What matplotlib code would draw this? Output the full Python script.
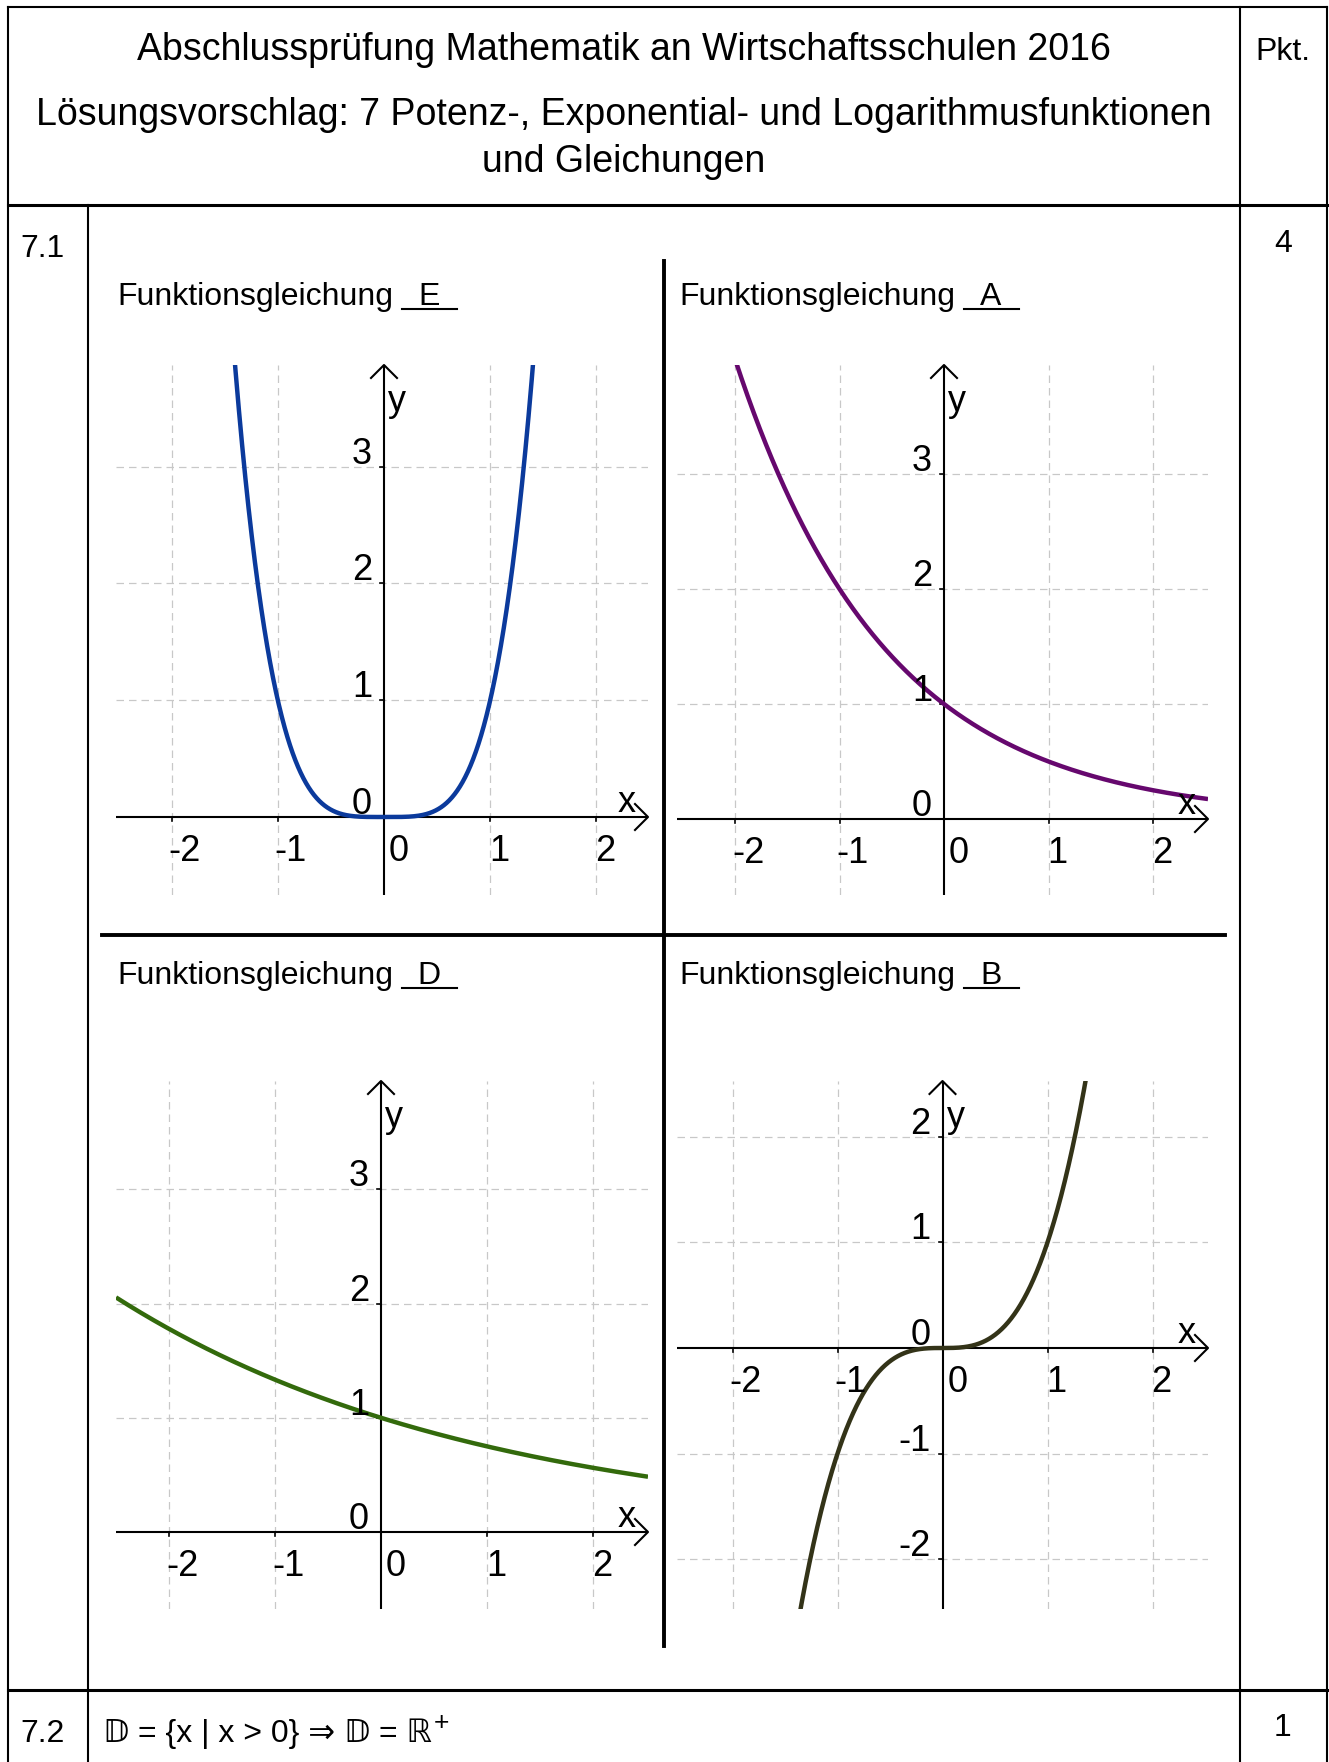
import numpy as np
import matplotlib.pyplot as plt
from matplotlib.transforms import offset_copy

plt.rcParams['font.family'] = ['Liberation Sans', 'DejaVu Sans']

W, H = 1329, 1762

# graphs of task 7.1 and the letter of the matching equation
letters = ['E', 'A', 'D', 'B']
curve_type = ['power', 'exp', 'exp', 'power']
curve_param = [4, 0.5, 0.75, 3]
x_ticks = [-2, -1, 0, 1, 2]
y_ticks = [[0, 1, 2, 3], [0, 1, 2, 3], [0, 1, 2, 3], [-2, -1, 0, 1, 2]]

title_lines = ['Abschlussprüfung Mathematik an Wirtschaftsschulen 2016',
               'Lösungsvorschlag: 7 Potenz-, Exponential- und Logarithmusfunktionen',
               'und Gleichungen']
task_numbers = ['7.1', '7.2']
task_points = ['4', '1']
answer_72 = '𝔻 = {x | x > 0} ⇒ 𝔻 = ℝ'

curve_colors = ['#0b3a9c', '#66086e', '#336a0c', '#333318']
grid_color = '#c8c8c8'
tick_fs = 26

# pixel layout of each coordinate system: origin, unit lengths, frame
panels = [
    dict(ox=384, oy=817, ux=106.2, uy=116.8, left=116, right=648, top=365, bottom=895),
    dict(ox=944, oy=819, ux=104.5, uy=115.0, left=677, right=1208, top=365, bottom=895),
    dict(ox=381, oy=1532, ux=105.9, uy=114.2, left=116, right=648, top=1081, bottom=1609),
    dict(ox=942.5, oy=1348, ux=105.0, uy=105.6, left=677, right=1208, top=1081, bottom=1609),
]
label_pos = [(117, 305), (679, 305), (117, 984), (679, 984)]

fig = plt.figure(figsize=(W / 100, H / 100), dpi=100)
bg = fig.add_axes([0, 0, 1, 1])
bg.set_xlim(0, W)
bg.set_ylim(H, 0)
bg.axis('off')


def hline(y, x0, x1, lw=1.5):
    bg.plot([x0, x1], [y, y], color='black', lw=lw, solid_capstyle='projecting')


def vline(x, y0, y1, lw=1.5):
    bg.plot([x, x], [y0, y1], color='black', lw=lw, solid_capstyle='projecting')


# table frame
hline(7, 8, 1327)
vline(8, 7, H)
vline(1327, 7, H)
vline(1240, 7, H)
hline(205, 8, 1327, lw=2.2)
vline(88, 205, H)
hline(1690, 8, 1327, lw=2.2)

# cross splitting the four graphs
vline(664, 261, 1646, lw=2.8)
hline(935, 102, 1225, lw=2.8)

# header
for s, yb in zip(title_lines, [60, 125, 172]):
    bg.text(624, yb, s, fontsize=27, ha='center', va='baseline')
bg.text(1283, 60, 'Pkt.', fontsize=23, ha='center', va='baseline')

bg.text(20, 257, task_numbers[0], fontsize=23, va='baseline')
bg.text(1283, 252, task_points[0], fontsize=23, ha='center', va='baseline')
bg.text(20, 1742, task_numbers[1], fontsize=23, va='baseline')
bg.text(1283, 1736, task_points[1], fontsize=23, ha='center', va='baseline')
ans = bg.text(103, 1742, answer_72, fontsize=23, va='baseline')
bg.annotate('+', xy=(1, 1), xycoords=ans, xytext=(1, -12), textcoords='offset points',
            fontsize=19, ha='left', va='bottom')

# "Funktionsgleichung _X_" captions
for letter, (lx, ly) in zip(letters, label_pos):
    bg.text(lx, ly, 'Funktionsgleichung', fontsize=23, va='baseline')
    bg.plot([lx + 285, lx + 340], [ly + 4, ly + 4], color='black', lw=1.5)
    bg.text(lx + 312, ly, letter, fontsize=23, ha='center', va='baseline')

for i, p in enumerate(panels):
    ax = fig.add_axes([p['left'] / W, 1 - p['bottom'] / H,
                       (p['right'] - p['left']) / W, (p['bottom'] - p['top']) / H])
    x0 = (p['left'] - p['ox']) / p['ux']
    x1 = (p['right'] - p['ox']) / p['ux']
    y0 = (p['oy'] - p['bottom']) / p['uy']
    y1 = (p['oy'] - p['top']) / p['uy']
    ax.set_xlim(x0, x1)
    ax.set_ylim(y0, y1)
    ax.axis('off')
    ax.patch.set_alpha(0)

    # dashed grid
    for xt in x_ticks:
        if xt != 0:
            ax.axvline(xt, color=grid_color, lw=0.9, dashes=(6, 4))
    for yt in y_ticks[i]:
        if yt != 0:
            ax.axhline(yt, color=grid_color, lw=0.9, dashes=(6, 4))

    # axes with open arrow heads
    ax.plot([x0, x1], [0, 0], color='black', lw=1.5)
    ax.plot([0, 0], [y0, y1], color='black', lw=1.5)
    hx = 13 / p['ux']
    hy = 13 / p['uy']
    ax.plot([x1 - hx, x1, x1 - hx], [hy, 0, -hy], color='black', lw=1.5, clip_on=False)
    ax.plot([-hx, 0, hx], [y1 - hy, y1, y1 - hy], color='black', lw=1.5, clip_on=False)

    # tick marks and labels
    for xt in x_ticks:
        ax.plot([xt, xt], [0, -4 / p['uy']], color='black', lw=1.2)
        dx = 5 if xt == 0 else (-3 if xt < 0 else -1)
        ax.text(xt, 0, str(xt), fontsize=tick_fs, ha='left', va='baseline',
                transform=offset_copy(ax.transData, fig, x=dx, y=-44, units='dots'))
    for yt in y_ticks[i]:
        ax.plot([-4 / p['ux'], 0], [yt, yt], color='black', lw=1.2)
        ax.text(0, yt, str(yt), fontsize=tick_fs, ha='right', va='baseline',
                transform=offset_copy(ax.transData, fig, x=-12, y=3, units='dots'))
    ax.text(x1, 0, 'x', fontsize=tick_fs, ha='center', va='baseline',
            transform=offset_copy(ax.transData, fig, x=-21, y=5, units='dots'))
    ax.text(0, y1, 'y', fontsize=tick_fs, ha='left', va='baseline',
            transform=offset_copy(ax.transData, fig, x=4, y=-46, units='dots'))

    # function graph
    xs = np.linspace(x0, x1, 2000)
    if curve_type[i] == 'power':
        ys = xs ** curve_param[i]
    else:
        ys = curve_param[i] ** xs
    ax.plot(xs, ys, color=curve_colors[i], lw=3.2, solid_capstyle='butt')

fig.savefig('out.png', dpi=100)
